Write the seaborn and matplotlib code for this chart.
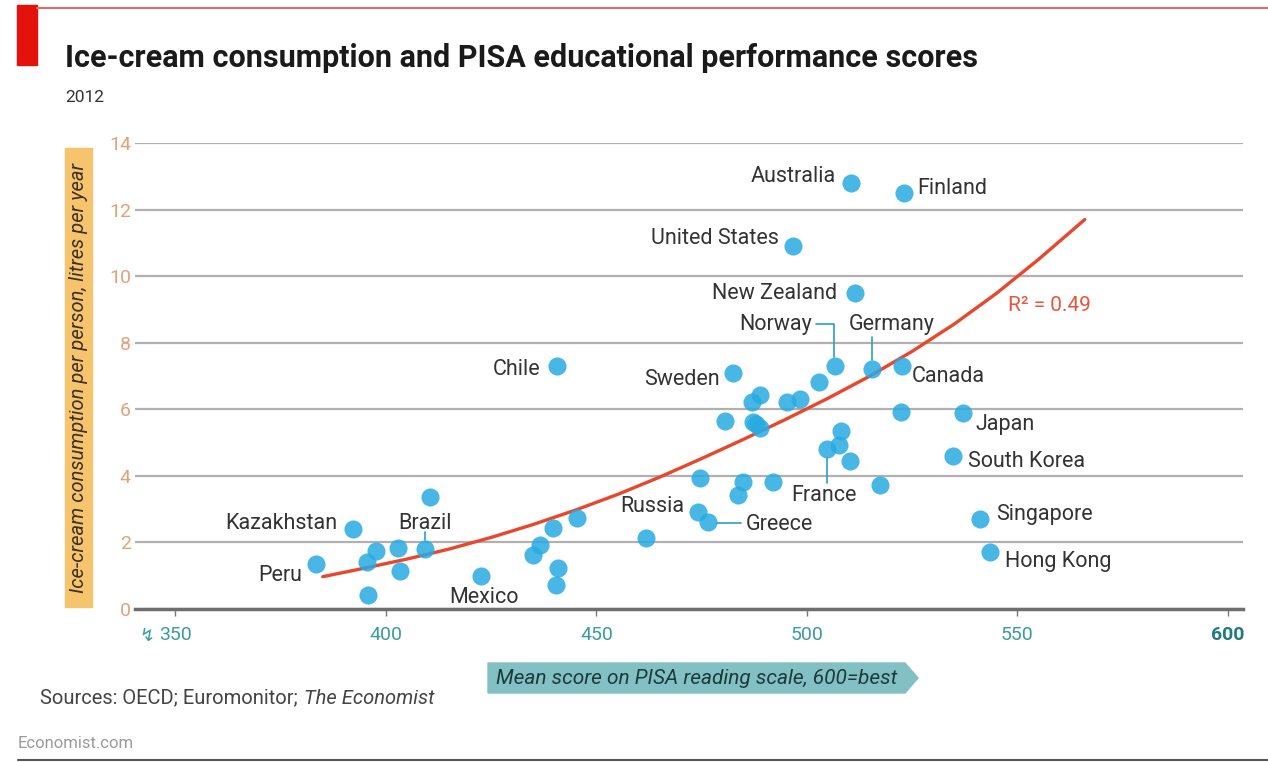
import numpy as np
import pandas as pd
import matplotlib
matplotlib.use('Agg')
import matplotlib.pyplot as plt
import seaborn as sns
from matplotlib.patches import Rectangle, Polygon
from matplotlib.lines import Line2D

W, H = 1268, 762

# labelled countries: PISA reading score vs ice-cream litres per person
countries = ['Australia', 'Finland', 'United States', 'New Zealand', 'Norway',
             'Germany', 'Canada', 'Chile', 'Sweden', 'Japan', 'South Korea',
             'France', 'Russia', 'Greece', 'Singapore', 'Hong Kong',
             'Kazakhstan', 'Brazil', 'Peru', 'Mexico']
country_pisa = [510.5, 523.0, 496.6, 511.4, 506.6, 515.5, 522.5, 440.6, 482.5, 537.1,
                534.8, 504.7, 474.2, 476.6, 541.1, 543.5, 392.1, 409.4, 383.5, 422.7]
country_litres = [12.8, 12.5, 10.9, 9.5, 7.3, 7.2, 7.3, 7.3, 7.1, 5.9,
                  4.6, 4.8, 2.9, 2.6, 2.7, 1.7, 2.4, 1.8, 1.35, 1.0]

# other countries, not named on the chart
other_pisa = [395.7, 395.4, 397.6, 402.8, 403.3, 410.5, 435.0, 436.6, 439.7, 445.3,
              440.9, 440.5, 461.9, 474.6, 484.9, 483.7, 492.0, 502.9, 498.3, 495.2,
              488.8, 486.9, 480.5, 487.2, 488.8, 487.9, 522.3, 508.1, 507.7, 510.2, 517.3]
other_litres = [0.42, 1.42, 1.74, 1.82, 1.14, 3.36, 1.62, 1.92, 2.42, 2.72,
                1.22, 0.72, 2.12, 3.94, 3.82, 3.42, 3.82, 6.83, 6.31, 6.23,
                6.43, 6.23, 5.65, 5.62, 5.43, 5.56, 5.92, 5.35, 4.92, 4.44, 3.72]

# fitted trend line
trend_pisa = [385, 395, 405, 415, 425, 435, 445, 455, 465, 475,
              485, 495, 505, 515, 525, 535, 545, 555, 566]
trend_litres = [0.97, 1.23, 1.50, 1.80, 2.15, 2.54, 2.97, 3.44, 3.96, 4.52,
                5.10, 5.70, 6.33, 7.00, 7.74, 8.56, 9.48, 10.50, 11.70]

x_ticks = [350, 400, 450, 500, 550, 600]
y_ticks = [0, 2, 4, 6, 8, 10, 12, 14]

title = 'Ice-cream consumption and PISA educational performance scores'
subtitle = '2012'
y_label = 'Ice-cream consumption per person, litres per year'
x_label = 'Mean score on PISA reading scale, 600=best'

# label placement in pixels relative to each dot: (dx, dy, ha)
label_pos = {
    'Australia': (-15, 6, 'right'), 'Finland': (14, 4, 'left'),
    'United States': (-14, 8, 'right'), 'New Zealand': (-18, -1, 'right'),
    'Norway': (-23, 42, 'right'), 'Germany': (-23, 45, 'left'),
    'Canada': (10, -10, 'left'), 'Chile': (-16, -3, 'right'),
    'Sweden': (-13, -7, 'right'), 'Japan': (12, -12, 'left'),
    'South Korea': (15, -6, 'left'), 'France': (-35, -46, 'left'),
    'Russia': (-14, 6, 'right'), 'Greece': (37, -2, 'left'),
    'Singapore': (16, 5, 'left'), 'Hong Kong': (15, -9, 'left'),
    'Kazakhstan': (-15, 6, 'right'), 'Brazil': (0, 26, 'center'),
    'Peru': (-14, -11, 'right'), 'Mexico': (3, -22, 'center'),
}
leaders = {
    'Norway': [(-19, 42), (-1, 42), (-1, 9)],
    'Germany': [(0, 32), (0, 9)],
    'France': [(0, -9), (0, -34)],
    'Greece': [(9, -1), (33, -1)],
    'Brazil': [(0, 17), (0, 9)],
}

DOT = '#29abe2'
TEAL = '#3a9c9e'
TEXT = '#333333'


def fx(px):
    return px / W


def fy(py):
    return 1 - py / H


sns.set_theme(style='white')
plt.rcParams['font.family'] = ['Roboto', 'DejaVu Sans']

fig = plt.figure(figsize=(W / 100, H / 100), dpi=100, facecolor='white')
ax = fig.add_axes([fx(135), fy(609), (1243 - 135) / W, (609 - 143) / H])

points = pd.DataFrame({
    'pisa': country_pisa + other_pisa,
    'litres': country_litres + other_litres,
})

sns.lineplot(x=trend_pisa, y=trend_litres, color='#e8472d', linewidth=2.4,
             ax=ax, zorder=2)
sns.scatterplot(data=points, x='pisa', y='litres', s=170, color=DOT, alpha=0.85,
                linewidth=0, ax=ax, zorder=3, clip_on=False, legend=False)

ax.set_xlim(340.4, 603.6)
ax.set_ylim(0, 14)
ax.set_xticks(x_ticks)
ax.set_yticks(y_ticks)
ax.set_xlabel('')
ax.set_ylabel('')
ax.yaxis.grid(True, color='#b0b0b0', linewidth=1.6)
ax.set_axisbelow(True)
for side in ['left', 'right', 'top']:
    ax.spines[side].set_visible(False)
ax.spines['bottom'].set_color('#6e6e6e')
ax.spines['bottom'].set_linewidth(2.5)
ax.spines['bottom'].set_zorder(2.5)
ax.tick_params(axis='y', length=0, labelsize=14, labelcolor='#e3a277', pad=3)
ax.tick_params(axis='x', bottom=True, length=5, width=1, color='#777777',
               labelsize=14, labelcolor=TEAL, pad=7)
last = ax.get_xticklabels()[-1]
last.set_color('#1f7b7c')
last.set_fontweight('bold')

# country names and leader lines
for name, px, py in zip(countries, country_pisa, country_litres):
    dx, dy, ha = label_pos[name]
    ax.annotate(name, (px, py), xytext=(dx, dy), textcoords='offset pixels',
                ha=ha, va='center', fontsize=15.5, color=TEXT, zorder=4)

to_fig = fig.transFigure.inverted()
for name, offs in leaders.items():
    i = countries.index(name)
    bx, by = ax.transData.transform((country_pisa[i], country_litres[i]))
    pts = to_fig.transform([(bx + dx, by + dy) for dx, dy in offs])
    fig.add_artist(Line2D(pts[:, 0], pts[:, 1], color='#2a9fc9', linewidth=1.2,
                          transform=fig.transFigure))

fig.text(fx(1008), fy(306), 'R² = 0.49', fontsize=15, color='#e8553d',
         ha='left', va='center')
fig.text(fx(147), fy(636), '↯', fontsize=13, color=TEAL, ha='center', va='center',
         family='DejaVu Sans')

# header
fig.add_artist(Line2D([fx(37), 1], [fy(8), fy(8)], color='#e06c6c', linewidth=1.5,
                      transform=fig.transFigure))
fig.add_artist(Rectangle((fx(17), fy(65)), 20 / W, 60 / H, color='#e3120b',
                         transform=fig.transFigure))
fig.text(fx(65), fy(58), title, fontsize=22, fontweight='bold', color='#1a1a1a',
         ha='left', va='center')
fig.text(fx(65), fy(98), subtitle, fontsize=12.5, color=TEXT, ha='left', va='center')

# axis title boxes
fig.add_artist(Rectangle((fx(65), fy(607)), 27 / W, (607 - 148) / H,
                         color='#f6c46c', transform=fig.transFigure))
fig.text(fx(78.5), fy(377.5), y_label, rotation=90, ha='center', va='center',
         fontsize=14.5, style='italic', color='#3b3022')

arrow = [(488, 663), (905, 663), (918, 678), (905, 693), (488, 693)]
fig.add_artist(Polygon([(fx(a), fy(b)) for a, b in arrow], closed=True,
                       color='#82c0c3', transform=fig.transFigure))
fig.text(fx(697), fy(678), x_label, ha='center', va='center', fontsize=15,
         style='italic', color='#1c3a3c')

# footer
src = fig.text(fx(40), fy(698), 'Sources: OECD; Euromonitor;', fontsize=14.5,
               color='#444444', ha='left', va='center')
fig.canvas.draw()
bb = src.get_window_extent()
fig.text((bb.x1 + 6) / W, fy(698), 'The Economist', fontsize=14.5, style='italic',
         color='#444444', ha='left', va='center')
fig.text(fx(18), fy(743), 'Economist.com', fontsize=12, color='#9a9a9a',
         ha='left', va='center')
fig.add_artist(Line2D([fx(18), 1], [fy(760), fy(760)], color='#555555',
                      linewidth=1.5, transform=fig.transFigure))

fig.savefig('out.png', dpi=100, facecolor='white')
